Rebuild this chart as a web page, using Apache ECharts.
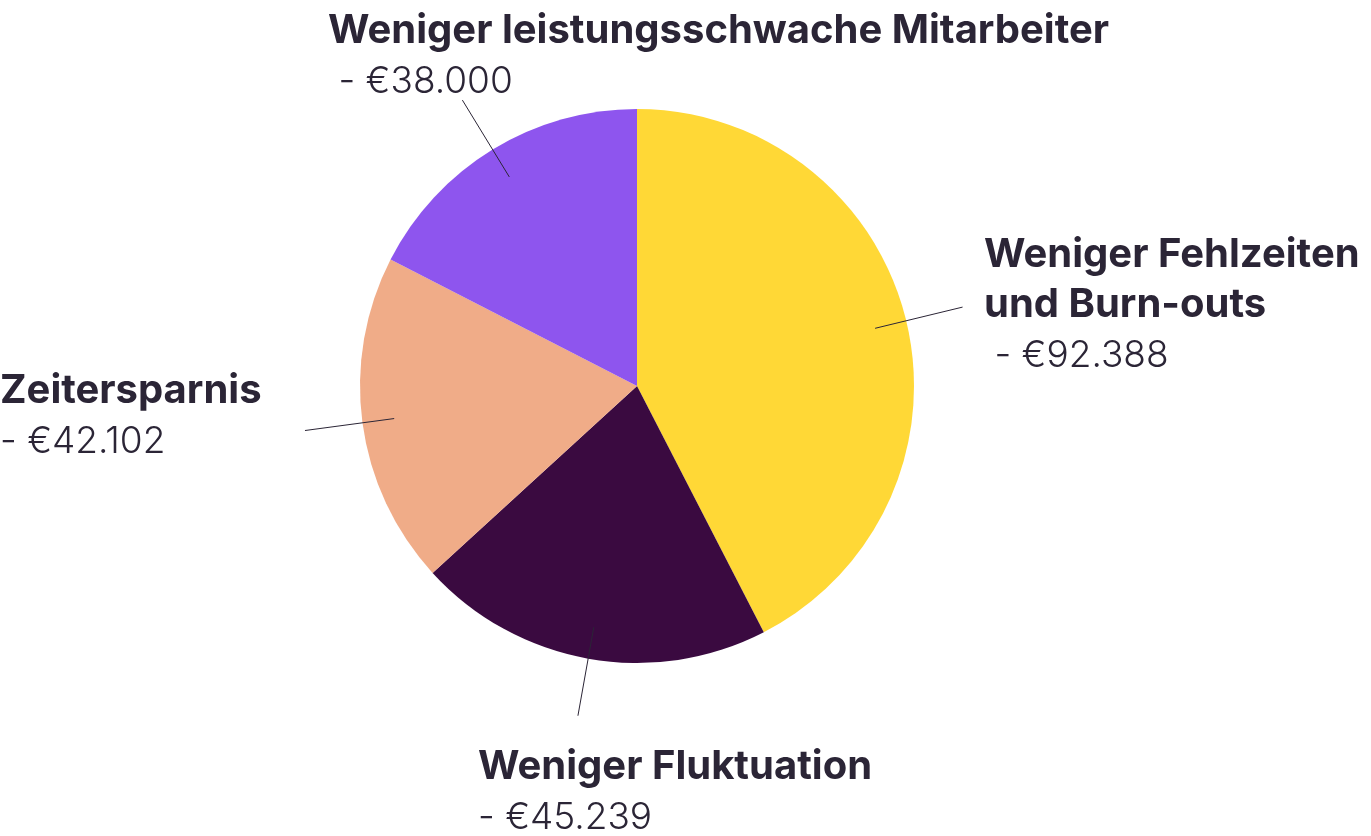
<!DOCTYPE html>
<html><head><meta charset="utf-8">
<script src="https://cdn.jsdelivr.net/npm/echarts@6/dist/echarts.min.js"></script>
<style>html,body{margin:0;padding:0;background:#fff}#c{width:1371px;height:836px}</style>
</head><body><div id="c"></div>
<script>
// ---- data ----
const categories = ['Weniger Fehlzeiten\nund Burn-outs', 'Weniger Fluktuation', 'Zeitersparnis', 'Weniger leistungsschwache Mitarbeiter'];
const values = [92388, 45239, 42102, 38000];

// ---- style / layout ----
const colors = ['#FFD836', '#3A0A40', '#F0AC88', '#8E55EE'];
const labelBoxes = [[984, 230], [478, 742], [0, 366], [328, 6]];
const valueIndent = [' ', '', '', ' '];
const textColor = '#2B2536';
const FONT = 'Inter, "Open Sans", sans-serif';

function fmt(v) { return '€' + String(v).replace(/\B(?=(\d{3})+(?!\d))/g, '.'); }

const pieData = categories.map((c, i) => ({ name: c, value: values[i], itemStyle: { color: colors[i] } }));

const chart = echarts.init(document.getElementById('c'), null, { renderer: 'canvas' });
chart.setOption({
  animation: false,
  backgroundColor: '#ffffff',
  series: [
    {
      type: 'pie',
      z: 2,
      center: [637, 386],
      radius: 277,
      startAngle: 90,
      clockwise: true,
      silent: true,
      label: { show: false },
      labelLine: { show: false },
      itemStyle: { borderWidth: 0 },
      data: pieData
    },
    {
      type: 'pie',
      z: 5,
      center: [637, 386],
      radius: 245,
      startAngle: 90,
      clockwise: true,
      silent: true,
      avoidLabelOverlap: false,
      itemStyle: { color: 'rgba(0,0,0,0)', borderWidth: 0 },
      data: categories.map((c, i) => ({ name: c, value: values[i] })),
      label: {
        show: true,
        position: 'outside',
        width: 900,
        overflow: 'none',
        formatter: p => '{b|' + p.name + '}\n{v|' + valueIndent[p.dataIndex] + '- ' + fmt(p.value) + '}',
        rich: {
          b: { fontFamily: FONT, fontSize: 40, fontWeight: 700, color: textColor, lineHeight: 50 },
          v: { fontFamily: FONT, fontSize: 37, fontWeight: 300, color: textColor, lineHeight: 52 }
        }
      },
      labelLine: { show: true, length: 90, length2: 0, lineStyle: { color: textColor, width: 1 } },
      labelLayout: function (p) {
        const b = labelBoxes[p.dataIndex];
        return { x: b[0], y: b[1], align: 'left', verticalAlign: 'top', labelLinePoints: p.labelLinePoints };
      }
    }
  ]
});
</script></body></html>
